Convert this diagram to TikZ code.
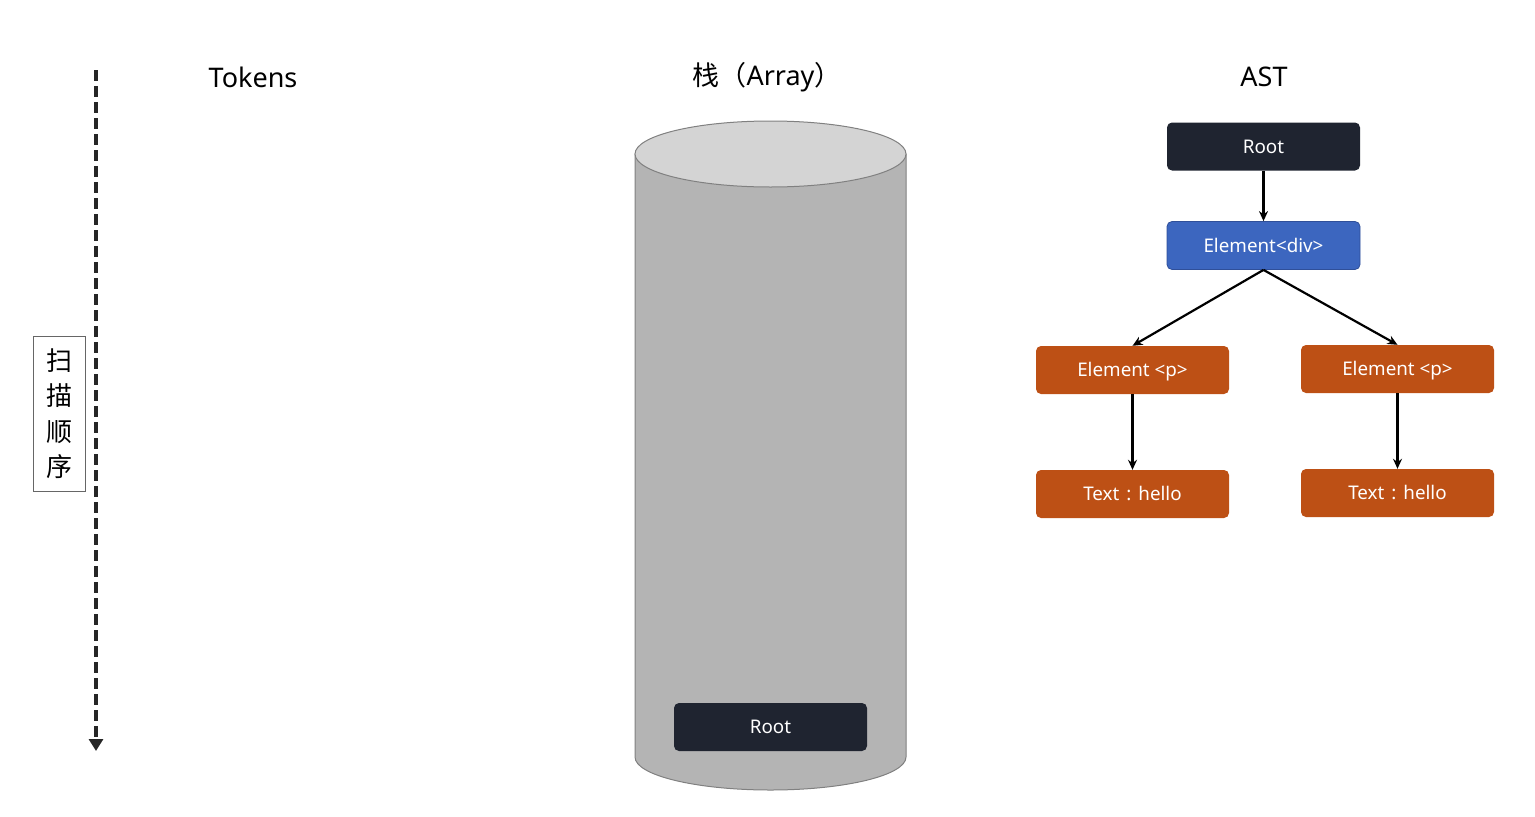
\documentclass[tikz,border=0pt]{standalone}
\usepackage{fontspec}
\setmainfont{Noto Sans}
\newfontfamily\cjk{Noto Sans CJK SC}
\newfontfamily\lat{Noto Sans}
\usetikzlibrary{arrows.meta,positioning}
\definecolor{darkbox}{HTML}{1F2430}
\definecolor{bluebox}{HTML}{3C66BF}
\definecolor{blueedge}{HTML}{2F4F99}
\definecolor{orangebox}{HTML}{BD5015}
\definecolor{cylbody}{HTML}{B4B4B4}
\definecolor{cyltop}{HTML}{D4D4D4}
\definecolor{cyledge}{HTML}{808080}
\tikzset{
  box/.style={rounded corners=5pt, minimum width=193pt, minimum height=48pt, inner sep=0pt, text height=13pt, text depth=0pt, text=white, font=\lat\fontsize{18.8}{20}\selectfont},
  darkb/.style={box, fill=darkbox},
  blueb/.style={box, fill=bluebox, draw=blueedge, line width=0.8pt},
  orangeb/.style={box, fill=orangebox},
  title/.style={font=\lat\fontsize{27}{30}\selectfont, text=black},
  conn/.style={-{Stealth[length=10pt,width=9pt]}, line width=2.2pt, black},
}
\begin{document}
\begin{tikzpicture}[x=1pt,y=-1pt]
\useasboundingbox (0,0) rectangle (1535,817);
% scan direction
\coordinate (s1) at (96,70);
\coordinate (s2) at (96,751);
\draw[line width=4pt, dash pattern=on 11pt off 5pt, draw=black!85, -{Triangle[length=12pt,width=14pt]}] (s1) -- (s2);
\node[draw=black!60, line width=1pt, minimum width=52pt, minimum height=155pt, inner sep=0pt, font=\cjk\fontsize{26}{35.5}\selectfont, align=center] (scan) at (59,413.5) {扫\\描\\顺\\序};
% titles
\node[title] (tok) at (253,77) {Tokens};
\node[title] (stk) at (767,77) {{\cjk 栈（}Array{\cjk ）}};
\node[title] (ast) at (1264,77) {AST};
% cylinder
\path[fill=cylbody, draw=cyledge, line width=1pt] (635,154) -- (635,757) arc[start angle=180, end angle=360, x radius=135.5pt, y radius=33pt] -- (906,154) -- cycle;
\path[fill=cyltop, draw=cyledge, line width=1pt] (770.5,154) ellipse[x radius=135.5pt, y radius=33pt];
\node[darkb] (sroot) at (770.5,727) {Root};
% AST
\node[darkb] (root) at (1263.5,146.5) {Root};
\node[blueb] (div) at (1263.5,245.5) {Element<div>};
\node[orangeb] (p1) at (1132.5,370) {Element <p>};
\node[orangeb] (p2) at (1397.5,369) {Element <p>};
\node[orangeb] (t1) at (1132.5,494) {Text\hspace{7pt}:\hspace{7pt}hello};
\node[orangeb] (t2) at (1397.5,493) {Text\hspace{7pt}:\hspace{7pt}hello};
\draw[conn] (root.south) -- (div.north);
\draw[conn] (div.south) -- (p1.north);
\draw[conn] (div.south) -- (p2.north);
\draw[conn] (p1.south) -- (t1.north);
\draw[conn] (p2.south) -- (t2.north);
\end{tikzpicture}
\end{document}
